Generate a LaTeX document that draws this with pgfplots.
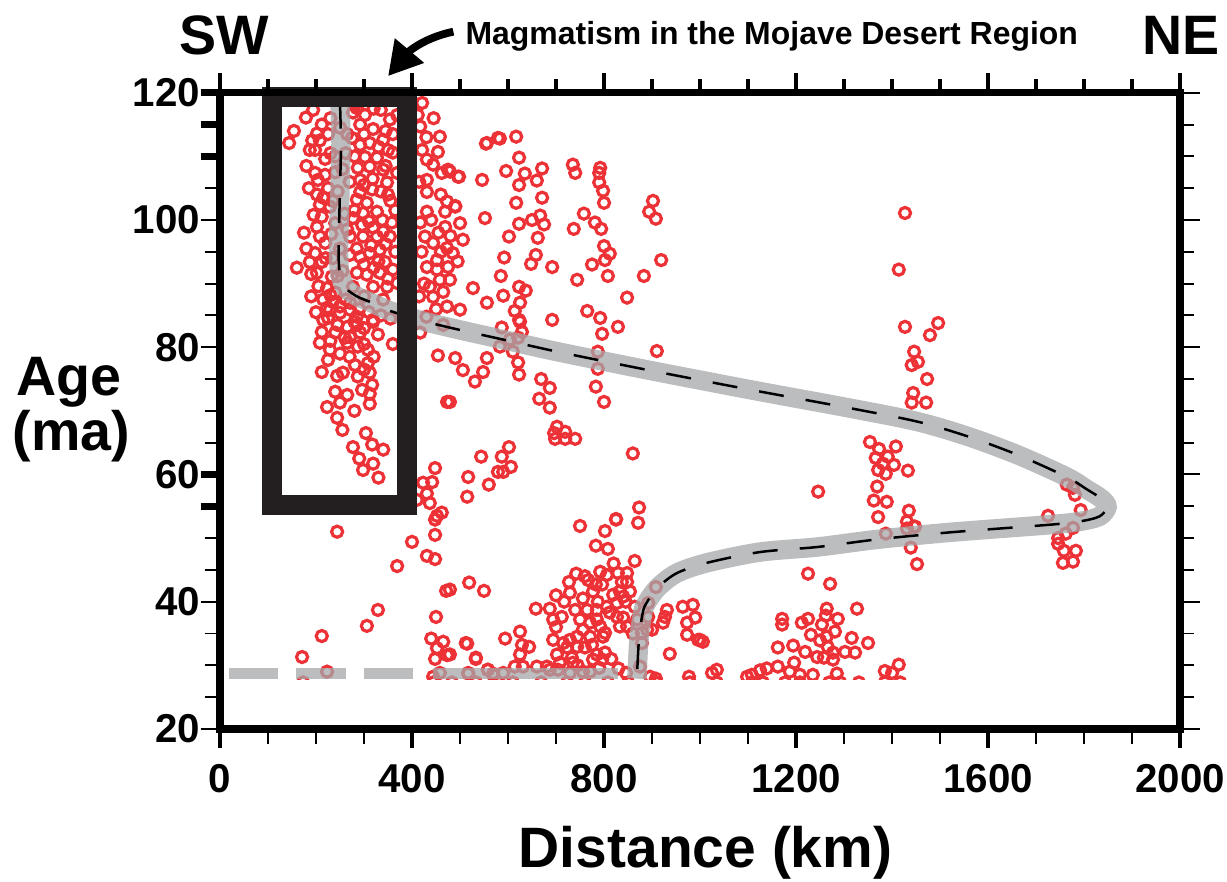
\documentclass[border=0pt]{standalone}
\usepackage{fontspec}
\setmainfont{Liberation Sans}
\usepackage{pgfplots}
\pgfplotsset{compat=1.18}
\usetikzlibrary{arrows.meta}
\definecolor{ptred}{RGB}{237,50,55}
\definecolor{bandgray}{RGB}{165,167,169}
\definecolor{boxblack}{RGB}{35,31,32}

\pgfplotstableread{
x y
194 117.3
179 116.1
154 114.0
144 112.1
192 112.5
208 112.5
202 113.6
212 115.0
219 109.6
198 111.0
187 111.0
277 116.9
285 117.6
302 116.5
292 115.0
319 114.3
354 115.8
369 116.5
275 112.9
292 111.8
312 112.1
340 112.6
302 109.9
327 109.8
360 110.6
287 108.2
312 108.4
340 107.9
369 107.4
198 107.4
219 107.1
204 106.3
292 106.3
317 104.8
292 104.4
348 105.9
202 104.0
208 102.4
229 102.1
285 103.2
306 102.7
327 101.3
350 104.0
212 100.5
202 98.9
277 100.3
298 101.1
296 99.2
319 98.8
358 99.6
208 97.4
219 96.4
271 97.4
298 97.4
327 97.4
354 97.4
198 94.8
187 93.4
212 93.4
292 94.2
312 94.8
333 95.3
344 93.4
160 92.5
202 91.7
233 91.1
285 91.7
306 91.4
333 91.7
360 92.2
223 89.3
240 88.6
277 89.5
319 89.5
348 89.5
369 90.1
229 85.9
250 86.4
271 87.0
319 84.3
215 84.3
230 116
250 114.5
265 113.5
240 110
255 108
270 106
245 104.5
260 101
240 99.5
265 98.5
250 95.5
235 94
270 94.5
255 92
280 110
300 113.5
335 117.3
345 108.5
355 103
338 100
315 96
330 93.5
345 96.2
300 88
290 86
310 85.5
340 87.5
355 84.5
225 105
215 103.5
232 97.8
195 100.8
205 89.6
190 88
215 87.5
200 85.5
245 83.5
260 81.5
300 80.5
320 78.5
230 81
280 118
320 117.5
345 114
360 113.5
330 111.5
262 110.5
350 111
318 106.5
335 104.5
300 105.5
280 101.5
310 99.8
340 98.2
365 101.5
285 95.5
300 93
320 92.5
365 95
350 90.8
230 110.5
225 113.5
180 108.5
185 105
175 98
180 95.5
190 91.5
240 107.5
235 103
220 94
230 88.2
245 91.2
262 87.5
280 84
300 83
335 85
250 79
270 78.5
300 76.5
240 73
265 72.5
280 70
255 67
290 62.5
330 59.5
223 86.2
235 87.1
225 84.6
250 85.4
271 85.9
285 84.8
212 82.4
240 82.3
265 83.2
285 83.5
271 81.6
292 82.3
208 80.7
229 79.6
265 80.7
287 80.1
308 79.6
319 84.0
329 82.0
225 78.0
281 77.2
308 77.5
212 76.1
244 75.5
256 76.0
287 75.4
312 76.0
317 74.1
296 73.3
312 72.7
312 71.1
250 71.3
223 70.6
244 68.9
360 80.5
304 66.5
277 64.3
317 64.7
340 63.9
319 61.7
298 60.7
244 51.0
421 118.4
412 116.5
417 114.7
458 113.1
421 111.0
454 110.7
431 109.5
444 108.7
475 107.9
496 106.8
462 107.4
431 106.3
431 104.4
473 102.9
490 102.1
469 101.3
431 101.3
469 98.9
417 99.6
427 97.4
444 96.4
473 95.6
485 94.8
452 93.7
431 92.6
452 92.2
475 92.6
458 90.6
479 90.6
437 89.5
465 88.7
444 87.9
473 86.4
415 106
430 113
445 116
460 104
420 95
455 98
440 100
460 95
425 90
450 86
430 84.8
415 88
465 83.5
480 97.5
495 93.5
500 99.5
527 89.3
556 87.0
552 100.3
556 112.1
579 112.9
546 106.3
554 112.0
583 112.8
617 113.1
623 109.8
596 107.7
635 107.3
671 108.1
498 106.8
479 107.6
623 105.5
660 106.2
671 103.5
617 102.7
490 102.2
650 100.0
667 100.7
675 99.3
623 99.4
602 97.4
662 97.2
506 96.9
592 94.1
658 94.5
648 93.1
692 92.6
585 91.2
623 89.5
637 88.9
590 88.1
625 87.0
614 85.7
500 85.9
623 84.3
692 84.3
735 108.7
740 107.4
792 108.2
790 107.4
790 105.9
798 104.6
800 102.7
758 101.0
781 99.6
794 98.6
737 98.6
800 95.9
812 94.7
802 93.7
775 93.0
808 91.2
744 90.6
883 91.2
848 87.8
765 85.7
792 84.6
829 83.2
902 103.0
894 101.3
908 100.2
919 93.7
625 84.0
629 82.4
796 82.1
910 79.4
587 83.1
583 80.1
604 81.2
621 81.5
787 79.3
787 76.6
610 79.3
621 77.6
623 75.7
490 78.3
556 78.3
506 76.4
548 76.1
531 74.6
479 71.4
669 75.0
687 73.6
665 71.9
687 70.5
783 73.8
800 71.4
702 67.5
696 66.5
698 65.6
719 66.7
719 65.6
740 65.6
860 63.3
602 64.3
544 62.8
587 62.8
606 61.2
590 60.4
517 59.6
560 58.4
515 56.5
873 54.8
825 53.0
871 52.4
750 51.9
802 51.1
783 48.8
808 48.3
417 82.3
454 78.7
473 71.4
448 61.0
423 58.7
442 58.8
431 57.0
437 55.5
410 56.0
452 53.5
462 54.0
448 50.5
400 49.4
579 60.4
448 52.9
431 47.2
448 46.7
369 45.6
471 41.7
519 43.0
550 41.7
329 38.7
306 36.2
212 34.6
171 31.3
450 37.6
440 34.2
465 33.7
452 32.7
448 31.0
473 31.6
515 33.4
533 31.0
558 29.3
569 28.7
223 29.0
458 28.8
517 28.7
444 28.2
825 52.9
864 46.4
479 41.9
742 44.4
727 43.1
729 41.4
717 40.0
658 38.9
687 38.9
694 37.2
712 37.6
767 43.4
792 44.7
806 44.2
783 42.7
796 42.7
777 41.6
756 40.5
787 40.0
740 38.7
765 38.7
785 38.7
806 39.2
829 44.5
848 44.5
837 43.1
848 43.1
833 41.6
819 41.1
840 40.8
854 41.6
827 39.8
812 38.3
827 37.6
840 37.5
833 36.1
848 36.1
750 37.2
771 36.7
785 37.2
756 35.6
792 36.1
802 35.1
771 34.5
744 34.5
729 34.0
715 33.5
694 34.0
723 32.8
744 32.9
775 33.2
798 34.5
802 32.0
785 31.7
777 30.9
796 30.9
760 32.8
702 31.7
708 30.4
733 31.2
735 30.4
681 29.8
660 29.8
687 29.3
704 29.3
729 28.8
756 29.0
771 29.0
700 36
760 44
820 46
845 40
860 35
815 31
830 29.5
790 29.6
745 30
700 41
625 35.3
629 33.2
644 32.9
625 31.7
594 34.2
512 33.5
533 31.2
479 31.7
631 29.8
614 29.8
590 28.8
558 29.3
569 28.5
517 28.8
864 39.2
892 39.8
869 37.2
892 37.6
879 35.1
890 35.6
900 35.6
879 33.5
908 42.3
931 38.7
927 37.6
923 36.7
964 39.2
985 39.5
990 37.5
973 36.7
973 34.8
996 34.0
1006 33.7
937 31.8
875 29.8
846 28.8
896 28.2
908 27.9
977 28.2
1025 28.8
1035 29.3
1098 28.2
1225 44.4
1271 42.8
1264 38.9
1327 38.9
1171 37.3
1171 36.4
1212 36.7
1225 37.3
1262 37.8
1287 37.3
1231 34.8
1254 36.4
1264 34.5
1281 35.3
1250 33.9
1316 34.3
1350 33.5
1162 32.8
1194 33.1
1219 32.1
1244 31.3
1266 32.9
1277 32.0
1277 30.9
1258 31.2
1302 32.1
1323 32.0
1196 30.4
1162 29.8
1139 29.5
1125 29.2
1108 28.5
1187 29.0
1208 28.5
1235 28.5
1285 28.7
1385 29.1
1400 28.8
1414 30.1
1000 34.0
1452 45.9
1431 51.5
1448 51.8
1387 50.7
1439 48.5
1446 79.3
1454 77.7
1441 77.2
1473 75.0
1444 72.8
1441 71.3
1471 71.3
1354 65.1
1373 64.0
1408 64.4
1366 62.6
1391 62.8
1381 61.7
1404 61.5
1371 60.7
1387 60.1
1433 60.6
1369 58.1
1362 55.9
1389 55.7
1371 53.3
1435 54.3
1431 52.6
1446 51.8
1764 58.4
1777 57.9
1781 56.8
1793 54.4
1725 53.5
1777 51.6
1762 50.7
1746 50.0
1746 49.1
1758 48.0
1783 48.0
1756 46.1
1777 46.3
1246 57.3
1427 101.1
1414 92.2
1427 83.2
1496 83.8
1479 81.9
173 27.3
444 27.3
483 27.3
533 27.3
579 27.3
610 27.3
669 27.3
723 27.3
760 27.3
808 27.3
850 27.3
908 27.3
979 27.3
1035 27.3
1108 27.3
1131 27.3
1177 27.3
1208 27.3
1269 27.3
1292 27.3
1331 27.3
1385 27.3
1417 27.3
}\magmadata

\begin{document}
\begin{tikzpicture}
\begin{axis}[
  scale only axis, width=345.6pt, height=229pt,
  xmin=0, xmax=2000, ymin=20, ymax=120,
  clip=false, clip marker paths=true, axis on top,
  axis line style={line width=2.6pt, line cap=rect},
  xtick={0,400,...,2000}, minor x tick num=3,
  ytick={20,40,...,120}, minor y tick num=3,
  xtick pos=bottom, ytick pos=left,
  tick align=outside,
  major tick length=7pt, minor tick length=5.5pt,
  major x tick style={line width=1.5pt, black},
  minor x tick style={line width=0.6pt, black},
  major y tick style={line width=0.7pt, black},
  minor y tick style={line width=0.7pt, black},
  extra y ticks={55,60,110,115,120}, extra y tick labels={},
  extra y tick style={major y tick style={line width=2.4pt}},
  tick label style={font=\fontsize{14.5}{16}\selectfont\bfseries, inner sep=0pt},
  /pgf/number format/assume math mode=true,
  /pgf/number format/1000 sep={},
  xticklabel style={yshift=-5.6pt},
]
\addplot[only marks, mark=o, mark size=2.0pt, ptred, mark options={line width=1.15pt}] table[x=x,y=y] {\magmadata};
\fill[white] (axis cs:0,20) rectangle (axis cs:2000,27.7);
\addplot[bandgray, opacity=0.75, line width=7pt, smooth, tension=0.5] coordinates {
(250,118.3) (252,112) (250,105) (248,99) (247,94.5) (250,91.5) (262,89.3) (285,88) (310,87.2) (351,85.8) (414,84.3) (461,83.4) (524,82.3) (572,81.5) (690,79.5) (800,77.8) (913,76.1) (1106,73.3) (1314,70.4) (1453,68.3) (1557,66.0) (1661,63.1) (1764,59.6) (1805,57.7) (1836,56.2) (1848,54.9) (1832,53.4) (1790,52.6) (1729,52.1) (1521,50.9) (1370,49.8) (1245,48.6) (1125,47.8) (1014,46.1) (952,44.5) (913,42.3) (890,40) (881,38.4) (873,34.2) (869,29) (868,27.9)};
\addplot[black, line width=0.9pt, dash pattern=on 9pt off 8pt, smooth, tension=0.5] coordinates {
(250,118.3) (252,112) (250,105) (248,99) (247,94.5) (250,91.5) (262,89.3) (285,88) (310,87.2) (351,85.8) (414,84.3) (461,83.4) (524,82.3) (572,81.5) (690,79.5) (800,77.8) (913,76.1) (1106,73.3) (1314,70.4) (1453,68.3) (1557,66.0) (1661,63.1) (1764,59.6) (1805,57.7) (1836,56.2) (1848,54.9) (1832,53.4) (1790,52.6) (1729,52.1) (1521,50.9) (1370,49.8) (1245,48.6) (1125,47.8) (1014,46.1) (952,44.5) (913,42.3) (890,40) (881,38.4) (873,34.2) (869,29) (868,27.9)};
\addplot[bandgray, opacity=0.75, line width=4pt] coordinates {(19,28.7) (121,28.7)};
\addplot[bandgray, opacity=0.75, line width=4pt] coordinates {(158,28.7) (262,28.7)};
\addplot[bandgray, opacity=0.75, line width=4pt] coordinates {(299,28.7) (403,28.7)};
\addplot[bandgray, opacity=0.75, line width=4pt] coordinates {(443,28.7) (830,28.7)};
\draw[boxblack, line width=7.2pt] (axis cs:108,119.35) rectangle (axis cs:389,55.25);
\end{axis}
\begin{axis}[
  scale only axis, width=345.6pt, height=229pt,
  xmin=0, xmax=2000, ymin=20, ymax=120,
  axis line style={draw=none},
  xtick={0,400,...,2000}, minor x tick num=3,
  ytick={20,40,...,120}, minor y tick num=3,
  xtick pos=top, ytick pos=right,
  xticklabels={}, yticklabels={},
  tick align=outside,
  major tick length=7pt, minor tick length=5pt,
  major x tick style={line width=1.6pt, black},
  minor x tick style={line width=1.2pt, black},
  major y tick style={line width=0.7pt, black},
  minor y tick style={line width=0.7pt, black},
]
\end{axis}
\node[anchor=base, inner sep=0pt, font=\fontsize{20}{24}\selectfont\bfseries] at (1.4pt,242.6pt) {SW};
\node[anchor=base, inner sep=0pt, font=\fontsize{20}{24}\selectfont\bfseries] at (346pt,242.6pt) {NE};
\node[anchor=base west, inner sep=0pt, font=\fontsize{11.5}{13}\selectfont\bfseries] at (88.2pt,246.2pt) {Magmatism in the Mojave Desert Region};
\draw[line width=2.8pt, -{Triangle[length=12pt,width=13pt]}] (84pt,251pt) to[out=192,in=50] (60.5pt,235pt);
\node[anchor=base, inner sep=0pt, font=\fontsize{20}{24}\selectfont\bfseries] at (-54.5pt,120.2pt) {Age};
\node[anchor=base, inner sep=0pt, font=\fontsize{20}{24}\selectfont\bfseries] at (-53.5pt,100.4pt) {(ma)};
\node[anchor=base, inner sep=0pt, font=\fontsize{20.5}{24}\selectfont\bfseries] at (174.8pt,-50pt) {Distance (km)};
\pgfresetboundingbox
\path[use as bounding box] (-79.2pt,-55.1pt) rectangle (362.5pt,262.4pt);
\end{tikzpicture}
\end{document}
